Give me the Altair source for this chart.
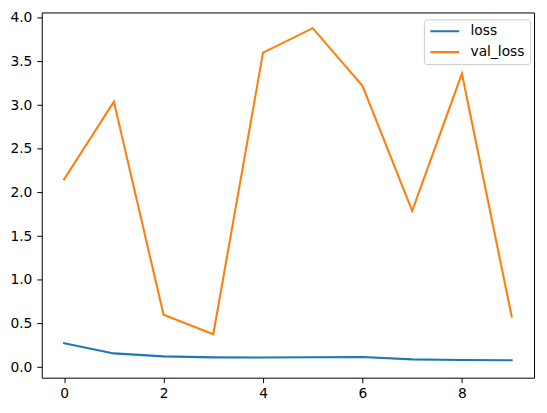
import altair as alt
import pandas as pd

epochs = [0, 1, 2, 3, 4, 5, 6, 7, 8, 9]
loss = [0.275, 0.158, 0.124, 0.113, 0.111, 0.115, 0.117, 0.090, 0.083, 0.080]
val_loss = [2.15, 3.04, 0.60, 0.377, 3.60, 3.88, 3.22, 1.79, 3.36, 0.58]
series = ["loss", "val_loss"]
colors = ["#1f77b4", "#ff7f0e"]
x_ticks = [0, 2, 4, 6, 8]
y_ticks = [0.0, 0.5, 1.0, 1.5, 2.0, 2.5, 3.0, 3.5, 4.0]

df = pd.concat([
    pd.DataFrame({"epoch": epochs, "value": loss, "series": "loss"}),
    pd.DataFrame({"epoch": epochs, "value": val_loss, "series": "val_loss"}),
])

FONT = "DejaVu Sans"

chart = alt.Chart(df).mark_line(strokeWidth=2.1, strokeJoin="miter", strokeCap="square").encode(
    x=alt.X("epoch:Q",
            scale=alt.Scale(domain=[-0.45, 9.45], nice=False, zero=False),
            axis=alt.Axis(values=x_ticks, format="d", title=None, grid=False,
                          labelPadding=4, tickSize=5)),
    y=alt.Y("value:Q",
            scale=alt.Scale(domain=[-0.12, 4.06], nice=False, zero=False),
            axis=alt.Axis(values=y_ticks, format=".1f", title=None, grid=False,
                          labelPadding=5, tickSize=5)),
    color=alt.Color("series:N",
                    scale=alt.Scale(domain=series, range=colors),
                    legend=alt.Legend(title=None, orient="none", legendX=385, legendY=7,
                                      symbolType="stroke", symbolSize=841,
                                      symbolStrokeWidth=2.1, clipHeight=14,
                                      rowPadding=7, padding=5, labelOffset=10,
                                      strokeColor="#cccccc", fillColor="white",
                                      cornerRadius=3)),
).properties(
    width=496, height=368,
    autosize=alt.AutoSizeParams(type="none"),
    padding={"left": 34, "top": 3, "right": 5, "bottom": 25},
).configure_view(
    stroke="black", strokeWidth=1
).configure_axis(
    domain=False, tickColor="black", tickWidth=1,
    labelFont=FONT, labelFontSize=13.9, labelColor="black",
).configure_legend(
    labelFont=FONT, labelFontSize=13.9, labelColor="black",
)

chart.save("out.html", embed_options={"renderer": "svg", "actions": False})
